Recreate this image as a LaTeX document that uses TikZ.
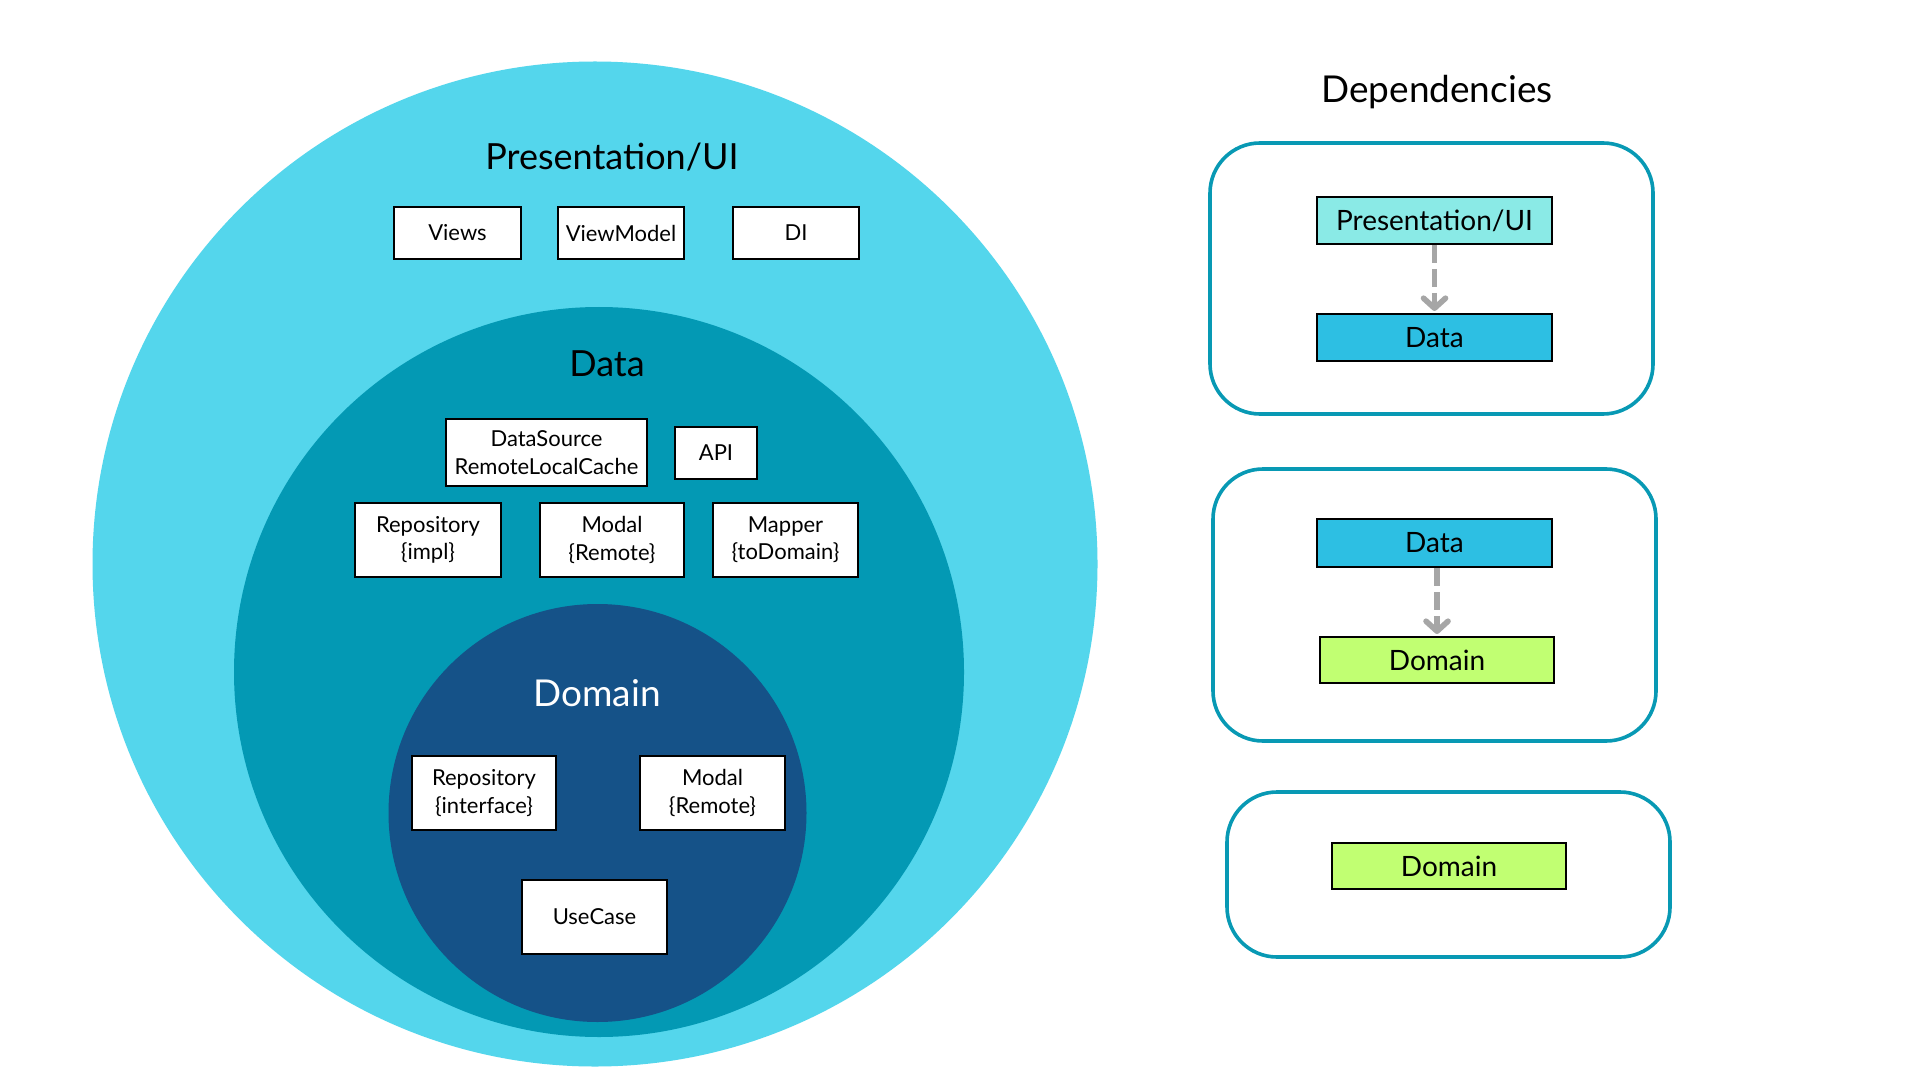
\documentclass[tikz,border=0pt]{standalone}
\usepackage{fontspec}
\setmainfont{Lato}
\usetikzlibrary{arrows.meta}
\definecolor{outerc}{RGB}{84,214,236}
\definecolor{midc}{RGB}{3,153,180}
\definecolor{innerc}{RGB}{21,82,136}
\definecolor{puic}{RGB}{138,234,230}
\definecolor{datac}{RGB}{45,191,227}
\definecolor{domc}{RGB}{193,255,114}
\definecolor{framec}{RGB}{8,153,180}
\definecolor{arrc}{RGB}{166,166,166}
\tikzset{
  box/.style={draw=black, line width=1pt, fill=white, inner sep=0pt, align=center,
    font=\fontsize{11}{13.7}\selectfont},
  depbox/.style={draw=black, line width=1pt, inner sep=0pt,
    font=\fontsize{14}{16}\selectfont},
  frame/.style={draw=framec, line width=1.8pt, rounded corners=25pt, inner sep=0pt},
  title/.style={anchor=base, inner sep=0pt},
  deparrow/.style={draw=arrc, line width=2.8pt, dash pattern=on 9pt off 3pt,
    -{Straight Barb[length=5pt,width=11pt,line cap=round,line join=round]}, shorten >=1pt}
}
\begin{document}
\begin{tikzpicture}[x=0.5pt,y=-0.5pt]
\useasboundingbox[fill=white] (0,0) rectangle (1920,1080);
% circles
\fill[outerc] (595,564) circle[radius=251.25pt];
\fill[midc] (599,672) circle[radius=182.5pt];
\fill[innerc] (597.5,813) circle[radius=104.5pt];
% titles
\node[title, font=\fontsize{18}{20}\selectfont] (tpui) at (612,170) {Presentation/UI};
\node[title, font=\fontsize{18}{20}\selectfont] (tdata) at (607,376) {Data};
\node[title, font=\fontsize{18.5}{20}\selectfont, text=white] (tdom) at (597,706) {Domain};
% presentation boxes
\node[box, minimum width=63.5pt, minimum height=26pt] (views) at (457.5,233) {Views};
\node[box, minimum width=63pt, minimum height=26pt] (vm) at (621,233) {ViewModel};
\node[box, minimum width=63pt, minimum height=26pt] (di) at (796,233) {DI};
% data boxes
\node[box, minimum width=100.5pt, minimum height=33.5pt] (ds) at (546.5,452.5) {DataSource\\RemoteLocalCache};
\node[box, minimum width=41pt, minimum height=26pt] (api) at (716,453) {API};
\node[box, minimum width=73pt, minimum height=37pt] (repoimpl) at (428,540) {Repository\\\{impl\}};
\node[box, minimum width=72pt, minimum height=37pt] (modalr) at (612,540) {Modal\\\{Remote\}};
\node[box, minimum width=72.5pt, minimum height=37pt] (mapper) at (785.5,540) {Mapper\\\{toDomain\}};
% domain boxes
\node[box, minimum width=72pt, minimum height=37pt] (repoif) at (484,793) {Repository\\\{interface\}};
\node[box, minimum width=72.5pt, minimum height=37pt] (modald) at (712.5,793) {Modal\\\{Remote\}};
\node[box, minimum width=72.5pt, minimum height=37pt] (usecase) at (594.5,917) {UseCase};
% dependencies
\node[title, font=\fontsize{18.5}{20}\selectfont] (tdep) at (1437,103) {Dependencies};
\node[frame, minimum width=221.5pt, minimum height=135.5pt] (f1) at (1431.5,278.5) {};
\node[depbox, fill=puic, minimum width=117.5pt, minimum height=23.5pt] (pui1) at (1434.5,220.5) {Presentation/UI};
\node[depbox, fill=datac, minimum width=117.5pt, minimum height=23.5pt] (data1) at (1434.5,337.5) {Data};
\draw[deparrow] (pui1) -- (data1);
\node[frame, minimum width=221.5pt, minimum height=136pt] (f2) at (1434.5,605) {};
\node[depbox, fill=datac, minimum width=117.5pt, minimum height=24pt] (data2) at (1434.5,543) {Data};
\node[depbox, fill=domc, minimum width=117pt, minimum height=23pt] (dom2) at (1437,660) {Domain};
\draw[deparrow] (data2.south -| dom2.north) -- (dom2.north);
\node[frame, minimum width=221.5pt, minimum height=82.5pt] (f3) at (1448.5,874.5) {};
\node[depbox, fill=domc, minimum width=117pt, minimum height=23pt] (dom3) at (1449,866) {Domain};
\end{tikzpicture}
\end{document}
